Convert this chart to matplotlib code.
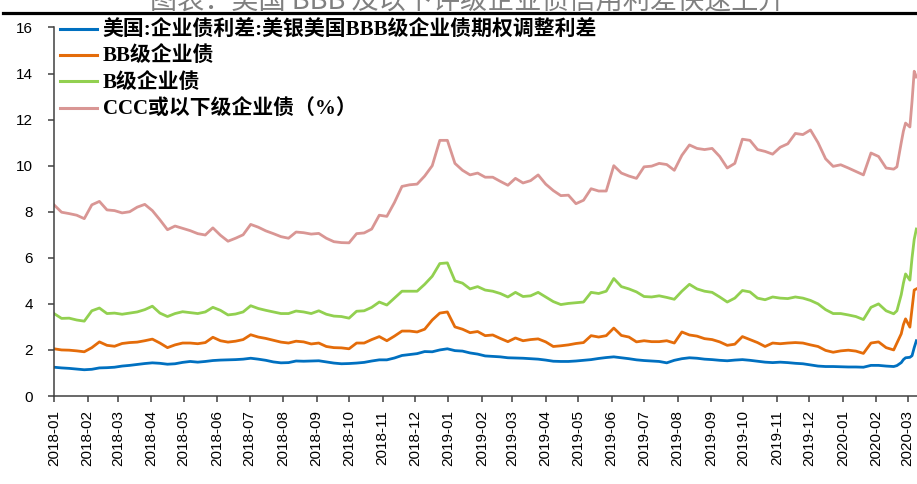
import pandas as pd
from matplotlib import pyplot as plt
from matplotlib import dates as mdates
from matplotlib.lines import Line2D

# weekly readings, then the last few days of the sell-off
dates = list(pd.date_range('2018-01-01', '2020-02-17', freq='7D')) + \
    list(pd.to_datetime(['2020-02-20', '2020-02-24', '2020-02-26', '2020-02-28',
                         '2020-03-03', '2020-03-05', '2020-03-07', '2020-03-09']))

bbb = [1.25, 1.22, 1.20, 1.17, 1.14, 1.16, 1.22, 1.23, 1.25, 1.30,
       1.33, 1.37, 1.41, 1.44, 1.42, 1.38, 1.40, 1.46, 1.50, 1.47,
       1.50, 1.54, 1.56, 1.57, 1.58, 1.60, 1.64, 1.60, 1.55, 1.48,
       1.44, 1.45, 1.52, 1.51, 1.52, 1.53, 1.48, 1.43, 1.40, 1.41,
       1.43, 1.46, 1.52, 1.57, 1.57, 1.65, 1.76, 1.80, 1.84, 1.93,
       1.92, 2.00, 2.05, 1.97, 1.95, 1.87, 1.82, 1.74, 1.72, 1.70,
       1.66, 1.65, 1.64, 1.62, 1.60, 1.56, 1.51, 1.50, 1.50, 1.52,
       1.55, 1.58, 1.63, 1.67, 1.70, 1.66, 1.62, 1.57, 1.54, 1.52,
       1.50, 1.44, 1.55, 1.62, 1.66, 1.64, 1.60, 1.58, 1.55, 1.53,
       1.56, 1.58, 1.55, 1.51, 1.47, 1.45, 1.47, 1.45, 1.42, 1.40,
       1.35, 1.30, 1.28, 1.28, 1.27, 1.26, 1.26, 1.25, 1.33, 1.33,
       1.30, 1.28,
       1.32, 1.45, 1.58, 1.66, 1.68, 1.75, 2.10, 2.40]

bb = [2.05, 2.00, 1.99, 1.96, 1.92, 2.10, 2.35, 2.20, 2.16, 2.28,
      2.32, 2.34, 2.40, 2.47, 2.30, 2.10, 2.22, 2.30, 2.30, 2.27,
      2.32, 2.55, 2.40, 2.34, 2.38, 2.45, 2.66, 2.56, 2.50, 2.42,
      2.34, 2.30, 2.38, 2.35, 2.26, 2.30, 2.15, 2.10, 2.09, 2.05,
      2.30, 2.30, 2.45, 2.58, 2.40, 2.60, 2.82, 2.82, 2.78, 2.90,
      3.30, 3.60, 3.65, 3.00, 2.90, 2.75, 2.80, 2.62, 2.65, 2.50,
      2.36, 2.52, 2.40, 2.45, 2.48, 2.35, 2.15, 2.18, 2.22, 2.28,
      2.32, 2.62, 2.56, 2.62, 2.95, 2.63, 2.56, 2.35, 2.40, 2.36,
      2.36, 2.40, 2.30, 2.78, 2.65, 2.60, 2.49, 2.45, 2.35, 2.20,
      2.25, 2.58, 2.45, 2.32, 2.15, 2.30, 2.27, 2.30, 2.32, 2.30,
      2.22, 2.15, 1.98, 1.90, 1.96, 1.99, 1.95, 1.85, 2.30, 2.35,
      2.10, 2.00,
      2.30, 2.70, 3.10, 3.35, 2.99, 3.80, 4.60, 4.65]

b = [3.58, 3.37, 3.38, 3.30, 3.25, 3.70, 3.82, 3.58, 3.60, 3.55,
     3.60, 3.65, 3.75, 3.90, 3.60, 3.45, 3.58, 3.66, 3.62, 3.58,
     3.65, 3.85, 3.72, 3.52, 3.56, 3.65, 3.92, 3.80, 3.72, 3.65,
     3.58, 3.58, 3.69, 3.65, 3.58, 3.70, 3.55, 3.47, 3.45, 3.38,
     3.68, 3.70, 3.85, 4.08, 3.95, 4.25, 4.55, 4.55, 4.55, 4.85,
     5.20, 5.75, 5.78, 5.00, 4.90, 4.65, 4.75, 4.60, 4.55, 4.45,
     4.30, 4.50, 4.32, 4.35, 4.50, 4.30, 4.10, 3.97, 4.02, 4.05,
     4.08, 4.50, 4.45, 4.55, 5.10, 4.75, 4.65, 4.52, 4.32, 4.30,
     4.35, 4.28, 4.20, 4.55, 4.85, 4.65, 4.55, 4.50, 4.30, 4.08,
     4.25, 4.58, 4.52, 4.25, 4.18, 4.30, 4.25, 4.23, 4.30, 4.25,
     4.15, 4.00, 3.75, 3.58, 3.58, 3.52, 3.45, 3.32, 3.85, 4.00,
     3.70, 3.57,
     3.70, 4.40, 4.90, 5.30, 5.03, 6.00, 6.80, 7.25]

ccc = [8.30, 7.98, 7.92, 7.85, 7.70, 8.30, 8.45, 8.08, 8.05, 7.95,
       8.00, 8.20, 8.32, 8.05, 7.65, 7.22, 7.38, 7.28, 7.18, 7.05,
       6.99, 7.30, 6.98, 6.72, 6.85, 7.00, 7.45, 7.33, 7.17, 7.05,
       6.92, 6.85, 7.12, 7.09, 7.03, 7.06, 6.85, 6.70, 6.66, 6.65,
       7.05, 7.08, 7.25, 7.85, 7.80, 8.40, 9.10, 9.17, 9.20, 9.55,
       10.00, 11.10, 11.10, 10.10, 9.80, 9.60, 9.68, 9.50, 9.50, 9.32,
       9.15, 9.45, 9.25, 9.35, 9.60, 9.20, 8.92, 8.70, 8.72, 8.35,
       8.50, 9.00, 8.90, 8.90, 10.00, 9.68, 9.55, 9.45, 9.95, 9.98,
       10.10, 10.05, 9.80, 10.45, 10.90, 10.75, 10.70, 10.75, 10.40, 9.90,
       10.10, 11.15, 11.10, 10.70, 10.62, 10.50, 10.80, 10.95, 11.40, 11.35,
       11.55, 11.00, 10.30, 9.97, 10.04, 9.90, 9.75, 9.60, 10.55, 10.40,
       9.90, 9.85,
       9.95, 11.00, 11.50, 11.85, 11.68, 12.80, 14.10, 13.85]

names = ['美国:企业债利差:美银美国BBB级企业债期权调整利差', 'BB级企业债',
         'B级企业债', 'CCC或以下级企业债（%）']
colors = ['#0070C0', '#E46C0A', '#92D050', '#D99694']

fonts = ['Liberation Serif', 'Noto Sans CJK SC']

fig = plt.figure(figsize=(9.17, 4.84), dpi=100)
ax = fig.add_axes([0.0589, 0.1818, 0.9411, 0.7614])

for ys, nm, c in zip([bbb, bb, b, ccc], names, colors):
    ax.plot(dates, ys, color=c, lw=2.0, label=nm)

ax.set_ylim(0, 16)
ax.set_yticks(range(0, 17, 2))
ax.set_xlim(pd.Timestamp('2018-01-01'), pd.Timestamp('2020-03-09 14:00'))
ax.xaxis.set_major_locator(mdates.MonthLocator())
ax.xaxis.set_major_formatter(mdates.DateFormatter('%Y-%m'))
for lab in ax.get_xticklabels():
    lab.set_rotation(90)

for s in ['top', 'right']:
    ax.spines[s].set_visible(False)
for s in ['left', 'bottom']:
    ax.spines[s].set_color('#404040')
    ax.spines[s].set_linewidth(1.1)
ax.tick_params(axis='both', direction='out', length=4, width=1.1, color='#404040')
ax.tick_params(axis='y', pad=11, labelsize=11)
ax.tick_params(axis='x', pad=6, labelsize=11)
for lab in ax.get_xticklabels() + ax.get_yticklabels():
    lab.set_fontfamily(['Liberation Sans', 'DejaVu Sans'])

leg = fig.legend(loc='upper left', bbox_to_anchor=(0.0654, 0.957), frameon=False,
                 borderpad=0, borderaxespad=0, handlelength=1.8, handletextpad=0.25,
                 labelspacing=0.3, prop={'family': fonts, 'weight': 'bold', 'size': 15})
for h in leg.legend_handles:
    h.set_linewidth(2.2)

# title of the page, mostly cut off by the top edge
fig.text(0.51, 0.983, '图表：美国 BBB 及以下评级企业债信用利差快速上升', ha='center', va='baseline',
         fontsize=19.5, color='#808080', family=['Noto Sans CJK SC', 'DejaVu Sans'])
fig.add_artist(Line2D([0.003, 1.0], [1 - 13 / 484, 1 - 13 / 484], transform=fig.transFigure,
                      color='black', lw=2.3))

fig.savefig('out.png', dpi=100)
